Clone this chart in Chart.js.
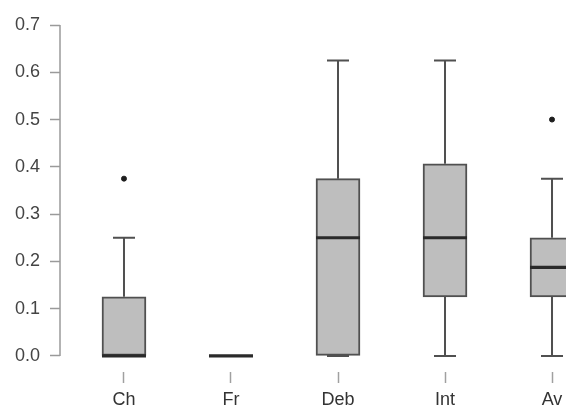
<!DOCTYPE html>
<html>
<head>
<meta charset="utf-8">
<script src="https://cdn.jsdelivr.net/npm/chart.js@4.4.1/dist/chart.umd.min.js"></script>
<style>
  html, body { margin: 0; padding: 0; background: #fff; }
  #wrap { width: 566px; height: 410px; }
</style>
</head>
<body>
<div id="wrap"><canvas id="boxChart"></canvas></div>
<script>
// box plot summary per group
const categories = ['Ch', 'Fr', 'Deb', 'Int', 'Av'];
const whiskerLow = [0, 0, 0, 0, 0];
const q1 = [0, 0, 0, 0.125, 0.125];
const medians = [0, 0, 0.25, 0.25, 0.1875];
const q3 = [0.125, 0, 0.375, 0.40625, 0.25];
const whiskerHigh = [0.25, 0, 0.625, 0.625, 0.375];
const outliers = [[0.375], [], [], [], [0.5]];
const yTicks = [0, 0.1, 0.2, 0.3, 0.4, 0.5, 0.6, 0.7];

const positions = categories.map((c, i) => i + 1);

const boxData = positions.map((x, i) => ({ x: x, y: [q1[i], q3[i]] }));
const outlierData = [];
outliers.forEach((list, i) => {
    list.forEach(v => outlierData.push({ x: positions[i], y: v }));
});

// whiskers, caps, medians and the y axis line
const boxExtras = {
    id: 'boxExtras',
    afterDatasetsDraw(chart) {
        const ctx = chart.ctx;
        const xs = chart.scales.x;
        const ys = chart.scales.y;
        const boxMeta = chart.getDatasetMeta(0);
        ctx.save();
        positions.forEach((p, i) => {
            const cx = xs.getPixelForValue(p);
            const half = boxMeta.data[i].width / 2;
            const capHalf = half / 2;
            ctx.strokeStyle = '#505050';
            ctx.lineWidth = 2;
            ctx.beginPath();
            // upper whisker
            ctx.moveTo(cx, ys.getPixelForValue(q3[i]));
            ctx.lineTo(cx, ys.getPixelForValue(whiskerHigh[i]));
            ctx.moveTo(cx - capHalf, ys.getPixelForValue(whiskerHigh[i]));
            ctx.lineTo(cx + capHalf, ys.getPixelForValue(whiskerHigh[i]));
            // lower whisker
            ctx.moveTo(cx, ys.getPixelForValue(q1[i]));
            ctx.lineTo(cx, ys.getPixelForValue(whiskerLow[i]));
            ctx.moveTo(cx - capHalf, ys.getPixelForValue(whiskerLow[i]));
            ctx.lineTo(cx + capHalf, ys.getPixelForValue(whiskerLow[i]));
            ctx.stroke();
            // median
            ctx.strokeStyle = '#2a2a2a';
            ctx.lineWidth = 3.2;
            ctx.beginPath();
            ctx.moveTo(cx - half, ys.getPixelForValue(medians[i]));
            ctx.lineTo(cx + half, ys.getPixelForValue(medians[i]));
            ctx.stroke();
        });
        // y axis line from first to last tick
        const ax = chart.chartArea.left;
        ctx.strokeStyle = '#9a9a9a';
        ctx.lineWidth = 1.5;
        ctx.beginPath();
        ctx.moveTo(ax, ys.getPixelForValue(yTicks[0]));
        ctx.lineTo(ax, ys.getPixelForValue(yTicks[yTicks.length - 1]));
        ctx.stroke();
        ctx.restore();
    }
};

const ctx = document.getElementById('boxChart').getContext('2d');
const boxChart = new Chart(ctx, {
    type: 'bar',
    data: {
        datasets: [{
            label: 'box',
            data: boxData,
            backgroundColor: '#bebebe',
            borderColor: '#505050',
            borderWidth: 2,
            borderSkipped: false,
            barThickness: 44,
            clip: false
        }, {
            type: 'scatter',
            label: 'outliers',
            data: outlierData,
            backgroundColor: '#1e1e1e',
            borderColor: '#1e1e1e',
            pointRadius: 2.5
        }]
    },
    options: {
        responsive: true,
        maintainAspectRatio: false,
        animation: false,
        layout: { padding: { top: 12, left: 0, right: 0, bottom: 0 } },
        plugins: {
            legend: { display: false },
            tooltip: { enabled: false }
        },
        scales: {
            x: {
                type: 'linear',
                offset: false,
                min: 0.402,
                max: 5.084,
                afterBuildTicks: axis => { axis.ticks = positions.map(v => ({ value: v })); },
                afterFit: axis => {
                    axis.height = 38;
                    axis.paddingLeft = 0;
                    axis.paddingRight = 0;
                },
                ticks: {
                    callback: v => categories[v - 1],
                    color: '#333',
                    font: { family: 'Liberation Sans', size: 18 },
                    padding: 6,
                    maxRotation: 0,
                    autoSkip: false
                },
                grid: {
                    offset: false,
                    drawOnChartArea: false,
                    drawTicks: true,
                    tickLength: 11,
                    tickColor: '#a0a0a0',
                    tickWidth: 1.5
                },
                border: { display: false }
            },
            y: {
                min: -0.034,
                max: 0.7275,
                afterBuildTicks: axis => { axis.ticks = yTicks.map(v => ({ value: v })); },
                afterFit: axis => {
                    axis.width = 60;
                    axis.paddingTop = 0;
                    axis.paddingBottom = 0;
                },
                ticks: {
                    callback: v => v.toFixed(1),
                    color: '#444',
                    font: { family: 'Liberation Sans', size: 18 },
                    padding: 10
                },
                grid: {
                    drawOnChartArea: false,
                    drawTicks: true,
                    tickLength: 10,
                    tickColor: '#9a9a9a',
                    tickWidth: 1.5
                },
                border: { display: false }
            }
        }
    },
    plugins: [boxExtras]
});
</script>
</body>
</html>
